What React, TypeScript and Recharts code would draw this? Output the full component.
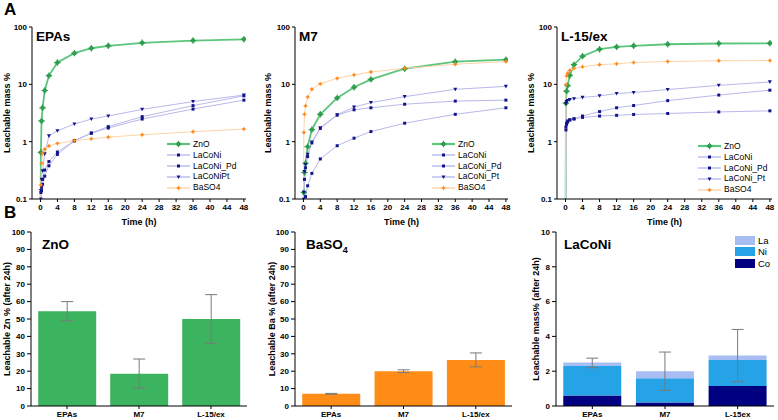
import React from 'react';
import { LineChart, Line, XAxis, YAxis, Legend, BarChart, Bar, ErrorBar, Label } from 'recharts';

const FONT = '"Liberation Sans", Arial, Helvetica, sans-serif';

// ---------- Panel A data (leachable mass %, log scale) ----------
const timeHours = [0, 0.1, 0.25, 0.5, 1, 2, 4, 8, 12, 16, 24, 36, 48];
const timeTicks = [0, 4, 8, 12, 16, 20, 24, 28, 32, 36, 40, 44, 48];
const timeDomain = [-2, 48.5];
const logTicks = [0.1, 1, 10, 100];

const epasZnO = [0.02, 0.65, 2.3, 3.9, 7.8, 14.2, 24, 35, 42.6, 47, 53, 58, 61];
const epasLaCoNi = [0.02, 0.13, 0.16, 0.22, 0.32, 0.45, 0.66, 1.04, 1.42, 1.83, 2.73, 4.25, 6.3];
const epasLaCoNiPd = [0.02, 0.1, 0.14, 0.18, 0.25, 0.38, 0.6, 1.03, 1.4, 1.73, 2.48, 3.7, 5.3];
const epasLaCoNiPt = [0.02, 0.14, 0.22, 0.31, 0.61, 1.26, 1.55, 2.03, 2.48, 2.8, 3.66, 5.0, 6.5];
const epasBaSO4 = [0.02, 0.175, 0.42, 0.63, 0.74, 0.84, 0.93, 1.04, 1.12, 1.2, 1.32, 1.49, 1.66];

const m7ZnO = [0.02, 0.13, 0.29, 0.42, 0.82, 1.62, 3.0, 5.8, 8.9, 12.2, 18.7, 24.8, 27];
const m7LaCoNi = [0.02, 0.1, 0.22, 0.35, 0.55, 0.95, 1.7, 2.9, 3.6, 3.9, 4.5, 5.1, 5.3];
const m7LaCoNiPd = [0.02, 0.06, 0.08, 0.11, 0.17, 0.28, 0.5, 0.85, 1.15, 1.5, 2.1, 3.0, 3.9];
const m7LaCoNiPt = [0.02, 0.13, 0.3, 0.4, 0.6, 0.98, 1.75, 2.95, 4.0, 4.8, 6.1, 8.2, 9.2];
const m7BaSO4 = [0.02, 1.45, 3.0, 4.2, 6.0, 8.2, 10.2, 12.7, 14.6, 16.4, 19, 22.4, 25];

const l15ZnO = [0.02, 4.7, 7.6, 9.5, 14.3, 22, 31, 41, 45, 47, 50, 51.5, 52];
const l15LaCoNi = [0.02, 1.6, 2.0, 2.2, 2.4, 2.5, 2.8, 3.35, 3.9, 4.27, 5.2, 6.5, 7.9];
const l15LaCoNiPd = [0.02, 1.8, 2.1, 2.3, 2.4, 2.5, 2.65, 2.8, 2.88, 2.98, 3.1, 3.3, 3.45];
const l15LaCoNiPt = [0.02, 4.6, 5.0, 5.2, 5.4, 5.6, 5.9, 6.3, 6.9, 7.2, 8.1, 9.6, 11];
const l15BaSO4 = [0.02, 9.8, 14, 15.6, 17.5, 19, 20.2, 22, 22.8, 24, 25, 25.8, 26];

const seriesKeys = ['ZnO', 'LaCoNi', 'LaCoNi_Pd', 'LaCoNi_Pt', 'BaSO4'];
const namesEPAs = ['ZnO', 'LaCoNi', 'LaCoNi_Pd', 'LaCoNiPt', 'BaSO4'];
const namesOther = ['ZnO', 'LaCoNi', 'LaCoNi_Pd', 'LaCoNi_Pt', 'BaSO4'];

// ---------- Panel B data (after 24 h) ----------
const sampleNames = ['EPAs', 'M7', 'L-15/ex'];
const znoLeach = [54.5, 18.5, 50];
const znoErr = [[5.5, 5.5], [8.2, 8.5], [14, 14]];
const baLeach = [7, 20, 26.5];
const baErr = [[0.25, 0.25], [0.8, 0.8], [4, 4]];
const laconiSampleNames = ['EPAs', 'M7', 'L-15ex'];
const coLeach = [0.6, 0.2, 1.15];
const niLeach = [1.7, 1.4, 1.5];
const laLeach = [0.2, 0.4, 0.25];
const laconiErr = [[0.3, 0.25], [1.1, 1.1], [1.5, 1.5]];
const elementLegendOrder = ['La', 'Ni', 'Co'];
const pctTicks = [0, 10, 20, 30, 40, 50, 60, 70, 80, 90, 100];
const massTicks = [0, 2, 4, 6, 8, 10];

// ---------- styles ----------
const lineStyle: Record<string, any> = {
  ZnO: { stroke: '#5cc57c', width: 1.8, marker: 'star', color: '#2f9e50' },
  LaCoNi: { stroke: '#b9b9ea', width: 1, marker: 'square', color: '#14148a' },
  LaCoNi_Pd: { stroke: '#b9b9ea', width: 1, marker: 'square', color: '#14148a' },
  LaCoNi_Pt: { stroke: '#b9b9ea', width: 1, marker: 'triangle', color: '#14148a' },
  BaSO4: { stroke: '#ffd3a8', width: 1, marker: 'small', color: '#ff8a1c' },
};
const GREEN = '#3cb35e';
const ORANGE = '#ff8c17';
const CO = '#000080';
const NI = '#25a3e6';
const LA = '#a8bdf2';

const tickStyle = { fontSize: 8, fontWeight: 'bold', fill: '#000', fontFamily: FONT };
const labelStyle = { fontSize: 9, fontWeight: 'bold', fill: '#000', fontFamily: FONT };

function Marker({ kind, cx, cy, color }: any) {
  if (kind === 'square') return <rect x={cx - 1.5} y={cy - 1.5} width={3} height={3} fill={color} />;
  if (kind === 'triangle')
    return <path d={`M${cx - 2},${cy - 1.6}L${cx + 2},${cy - 1.6}L${cx},${cy + 2}Z`} fill={color} />;
  if (kind === 'star')
    return (
      <g>
        <circle cx={cx} cy={cy} r={2.2} fill={color} />
        <path d={`M${cx - 3.2},${cy}H${cx + 3.2}M${cx},${cy - 3.2}V${cy + 3.2}`} stroke={color} strokeWidth={1.2} />
      </g>
    );
  return (
    <g>
      <circle cx={cx} cy={cy} r={1.4} fill={color} />
      <path d={`M${cx - 2.2},${cy}H${cx + 2.2}M${cx},${cy - 2.2}V${cy + 2.2}`} stroke={color} strokeWidth={0.8} />
    </g>
  );
}

const makeDot = (key: string) => (props: any) => {
  const { cx, cy, index } = props;
  const st = lineStyle[key];
  if (cx == null || cy == null || Number.isNaN(cx) || Number.isNaN(cy)) return <g key={`${key}-${index}`} />;
  return <Marker key={`${key}-${index}`} kind={st.marker} cx={cx} cy={cy} color={st.color} />;
};

const LineLegend = (props: any) => {
  const payload = [...(props.payload || [])].sort(
    (a: any, b: any) => seriesKeys.indexOf(String(a.dataKey)) - seriesKeys.indexOf(String(b.dataKey)),
  );
  return (
    <div style={{ fontFamily: FONT, fontSize: 8.5, color: '#000', lineHeight: '10.8px' }}>
      {payload.map((e: any, i: number) => {
        const key = String(e.dataKey);
        const st = lineStyle[key] || lineStyle.LaCoNi;
        return (
          <div key={`lg-${i}`} style={{ display: 'flex', alignItems: 'center', height: 10.8 }}>
            <svg width={23} height={10} style={{ display: 'block' }}>
              <line x1={0} y1={5} x2={23} y2={5} stroke={st.stroke} strokeWidth={st.width + 0.4} />
              <Marker kind={st.marker} cx={11.5} cy={5} color={st.color} />
            </svg>
            <span style={{ marginLeft: 3, whiteSpace: 'nowrap' }}>{e.value}</span>
          </div>
        );
      })}
    </div>
  );
};

const StackLegend = (props: any) => {
  const payload = [...(props.payload || [])].sort(
    (a: any, b: any) => elementLegendOrder.indexOf(String(a.value)) - elementLegendOrder.indexOf(String(b.value)),
  );
  return (
    <div style={{ fontFamily: FONT, fontSize: 9.5, color: '#000' }}>
      {payload.map((e: any, i: number) => (
        <div key={`sl-${i}`} style={{ display: 'flex', alignItems: 'center', height: 11.3 }}>
          <div style={{ width: 20, height: 9, background: e.color }} />
          <span style={{ marginLeft: 3 }}>{e.value}</span>
        </div>
      ))}
    </div>
  );
};

const buildRows = (zno: number[], a: number[], b: number[], c: number[], ba: number[]) =>
  timeHours.map((t, i) => ({ t, ZnO: zno[i], LaCoNi: a[i], LaCoNi_Pd: b[i], LaCoNi_Pt: c[i], BaSO4: ba[i] }));

const logFmt = (v: number) => (v < 1 ? String(v) : String(Math.round(v)));

const A_H = 230;
const A_TOP = 27;
const A_BOTTOM = 199;

function Title({ text, left, top, sub }: any) {
  return (
    <div style={{ position: 'absolute', left, top, fontFamily: FONT, fontWeight: 'bold', fontSize: 13.5, lineHeight: 1, color: '#000', whiteSpace: 'nowrap' }}>
      {text}
      {sub ? <sub style={{ fontSize: 9 }}>{sub}</sub> : null}
    </div>
  );
}

function KineticsPanel({ left, width, plotLeft, plotRight, rows, names, legendLeft, legendTop, title, yLabelOffset }: any) {
  return (
    <div style={{ position: 'absolute', left, top: 0, width, height: A_H }}>
      <LineChart
        width={width}
        height={A_H}
        data={rows}
        margin={{ top: A_TOP, right: left + width - plotRight, left: 0, bottom: 0 }}
      >
        <XAxis
          dataKey="t"
          type="number"
          domain={timeDomain}
          allowDataOverflow
          ticks={timeTicks}
          interval={0}
          height={A_H - A_BOTTOM}
          tick={tickStyle}
          tickSize={3}
          axisLine={{ stroke: '#000' }}
          tickLine={{ stroke: '#000' }}
        >
          <Label value="Time (h)" position="insideBottom" offset={5} style={labelStyle} />
        </XAxis>
        <YAxis
          type="number"
          scale="log"
          domain={[0.1, 100]}
          allowDataOverflow
          ticks={logTicks}
          interval={0}
          tickFormatter={logFmt}
          width={plotLeft - left}
          tick={tickStyle}
          tickSize={3}
          axisLine={{ stroke: '#000' }}
          tickLine={{ stroke: '#000' }}
        >
          <Label value="Leachable mass %" angle={-90} position="insideLeft" offset={yLabelOffset} style={{ ...labelStyle, textAnchor: 'middle' }} />
        </YAxis>
        <XAxis xAxisId="top" orientation="top" type="number" domain={[0, 1]} height={0} tick={false} tickLine={false} axisLine={{ stroke: '#000' }} />
        <YAxis yAxisId="right" orientation="right" type="number" domain={[0, 1]} width={0} tick={false} tickLine={false} axisLine={{ stroke: '#000' }} />
        {seriesKeys.map((k, i) => (
          <Line
            key={k}
            dataKey={k}
            name={names[i]}
            type="linear"
            stroke={lineStyle[k].stroke}
            strokeWidth={lineStyle[k].width}
            dot={makeDot(k)}
            activeDot={false}
            isAnimationActive={false}
          />
        ))}
        <Legend
          layout="vertical"
          align="center"
          verticalAlign="middle"
          content={LineLegend}
          wrapperStyle={{ left: legendLeft, top: legendTop, width: 'auto' }}
        />
      </LineChart>
      <Title text={title} left={plotLeft - left + 4} top={30} />
    </div>
  );
}

const B_TOP = 210;
const B_H = 210;
const B_PLOT_TOP = 232;
const B_PLOT_BOTTOM = 406;

function SimpleBarPanel({ left, width, plotLeft, plotRight, values, errors, fill, yLabel, yLabelOffset, title, sub }: any) {
  const data = sampleNames.map((name, i) => ({ name, value: values[i], err: errors[i] }));
  return (
    <div style={{ position: 'absolute', left, top: B_TOP, width, height: B_H }}>
      <BarChart
        width={width}
        height={B_H}
        data={data}
        barCategoryGap="10%"
        margin={{ top: B_PLOT_TOP - B_TOP, right: left + width - plotRight, left: 0, bottom: 0 }}
      >
        <XAxis dataKey="name" height={B_TOP + B_H - B_PLOT_BOTTOM} tick={tickStyle} tickSize={3} axisLine={{ stroke: '#000' }} tickLine={{ stroke: '#000' }} interval={0} />
        <YAxis
          type="number"
          domain={[0, 100]}
          ticks={pctTicks}
          interval={0}
          width={plotLeft - left}
          tick={tickStyle}
          tickSize={4}
          axisLine={{ stroke: '#000' }}
          tickLine={{ stroke: '#000' }}
        >
          <Label value={yLabel} angle={-90} position="insideLeft" offset={yLabelOffset} style={{ ...labelStyle, textAnchor: 'middle' }} />
        </YAxis>
        <XAxis xAxisId="top" orientation="top" type="number" domain={[0, 1]} height={0} tick={false} tickLine={false} axisLine={{ stroke: '#000' }} />
        <YAxis yAxisId="right" orientation="right" type="number" domain={[0, 1]} width={0} tick={false} tickLine={false} axisLine={{ stroke: '#000' }} />
        <Bar dataKey="value" fill={fill} isAnimationActive={false}>
          <ErrorBar dataKey="err" direction="y" width={6} stroke="#7a7a7a" strokeWidth={1} />
        </Bar>
      </BarChart>
      <Title text={title} sub={sub} left={plotLeft - left + 11} top={28} />
    </div>
  );
}

function StackedBarPanel({ left, width, plotLeft, plotRight }: any) {
  const data = laconiSampleNames.map((name, i) => ({ name, Co: coLeach[i], Ni: niLeach[i], La: laLeach[i], err: laconiErr[i] }));
  return (
    <div style={{ position: 'absolute', left, top: B_TOP, width, height: B_H }}>
      <BarChart
        width={width}
        height={B_H}
        data={data}
        barCategoryGap="10%"
        margin={{ top: B_PLOT_TOP - B_TOP, right: left + width - plotRight, left: 0, bottom: 0 }}
      >
        <XAxis dataKey="name" height={B_TOP + B_H - B_PLOT_BOTTOM} tick={tickStyle} tickSize={3} axisLine={{ stroke: '#000' }} tickLine={{ stroke: '#000' }} interval={0} />
        <YAxis
          type="number"
          domain={[0, 10]}
          ticks={massTicks}
          interval={0}
          width={plotLeft - left}
          tick={tickStyle}
          tickSize={4}
          axisLine={{ stroke: '#000' }}
          tickLine={{ stroke: '#000' }}
        >
          <Label value="Leachable mass% (after 24h)" angle={-90} position="insideLeft" offset={20} style={{ ...labelStyle, textAnchor: 'middle' }} />
        </YAxis>
        <XAxis xAxisId="top" orientation="top" type="number" domain={[0, 1]} height={0} tick={false} tickLine={false} axisLine={{ stroke: '#000' }} />
        <YAxis yAxisId="right" orientation="right" type="number" domain={[0, 1]} width={0} tick={false} tickLine={false} axisLine={{ stroke: '#000' }} />
        <Bar dataKey="Co" name="Co" stackId="s" fill={CO} isAnimationActive={false} />
        <Bar dataKey="Ni" name="Ni" stackId="s" fill={NI} isAnimationActive={false} />
        <Bar dataKey="La" name="La" stackId="s" fill={LA} isAnimationActive={false}>
          <ErrorBar dataKey="err" direction="y" width={6} stroke="#7a7a7a" strokeWidth={1} />
        </Bar>
        <Legend layout="vertical" align="center" verticalAlign="middle" content={StackLegend} wrapperStyle={{ left: 219, top: 25, width: 'auto' }} />
      </BarChart>
      <Title text="LaCoNi" left={plotLeft - left + 8} top={28} />
    </div>
  );
}

export default function App() {
  return (
    <div style={{ position: 'absolute', left: 0, top: 0, width: 778, height: 420, background: '#fff', fontFamily: FONT, overflow: 'hidden' }}>
      <KineticsPanel
        left={0}
        width={252}
        plotLeft={32}
        plotRight={246}
        rows={buildRows(epasZnO, epasLaCoNi, epasLaCoNiPd, epasLaCoNiPt, epasBaSO4)}
        names={namesEPAs}
        legendLeft={167}
        legendTop={139}
        title="EPAs"
        yLabelOffset={7}
      />
      <KineticsPanel
        left={256}
        width={259}
        plotLeft={295}
        plotRight={508}
        rows={buildRows(m7ZnO, m7LaCoNi, m7LaCoNiPd, m7LaCoNiPt, m7BaSO4)}
        names={namesOther}
        legendLeft={176}
        legendTop={139}
        title="M7"
        yLabelOffset={12}
      />
      <KineticsPanel
        left={516}
        width={262}
        plotLeft={557}
        plotRight={772}
        rows={buildRows(l15ZnO, l15LaCoNi, l15LaCoNiPd, l15LaCoNiPt, l15BaSO4)}
        names={namesOther}
        legendLeft={182}
        legendTop={141}
        title="L-15/ex"
        yLabelOffset={15}
      />
      <SimpleBarPanel
        left={0}
        width={252}
        plotLeft={31}
        plotRight={247}
        values={znoLeach}
        errors={znoErr}
        fill={GREEN}
        yLabel="Leachable Zn % (after 24h)"
        yLabelOffset={7}
        title="ZnO"
      />
      <SimpleBarPanel
        left={256}
        width={259}
        plotLeft={295}
        plotRight={512}
        values={baLeach}
        errors={baErr}
        fill={ORANGE}
        yLabel="Leachable Ba % (after 24h)"
        yLabelOffset={16}
        title="BaSO"
        sub="4"
      />
      <StackedBarPanel left={516} width={262} plotLeft={556} plotRight={774} />
      <div style={{ position: 'absolute', left: 4, top: 1, fontFamily: FONT, fontWeight: 'bold', fontSize: 17, lineHeight: 1 }}>A</div>
      <div style={{ position: 'absolute', left: 4, top: 204, fontFamily: FONT, fontWeight: 'bold', fontSize: 17, lineHeight: 1 }}>B</div>
    </div>
  );
}
